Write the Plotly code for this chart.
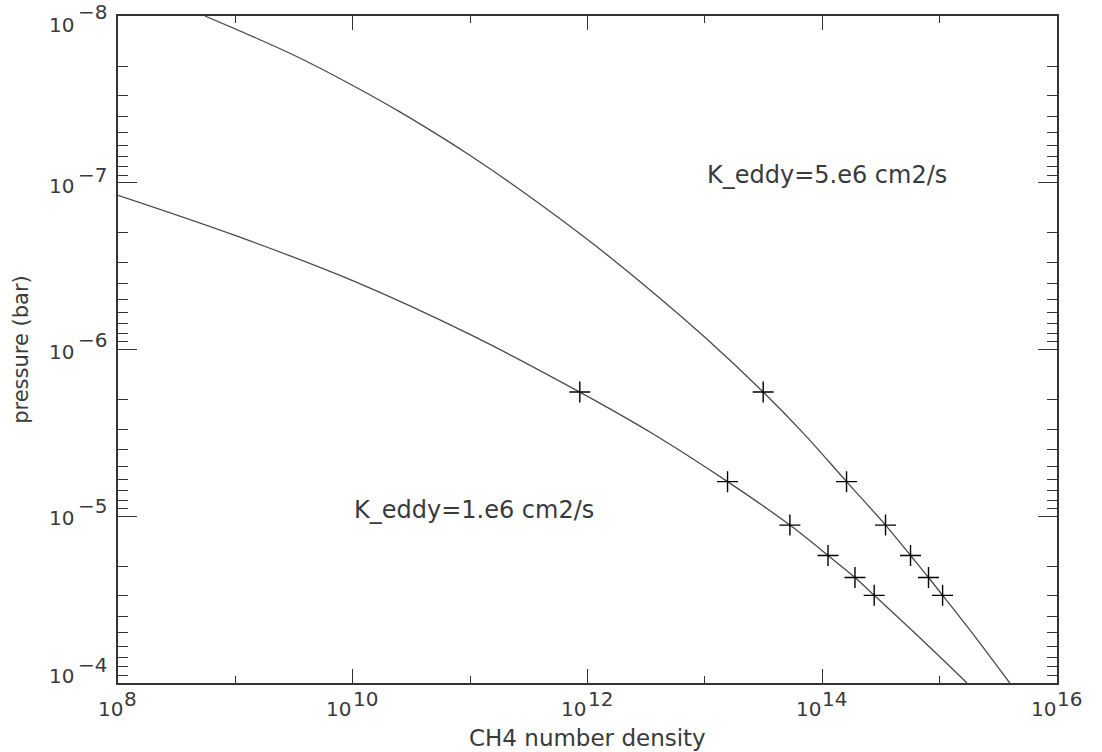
import plotly.graph_objects as go

# ---- data ----
# K_eddy = 1.e6 cm2/s curve
dens_k1 = [1e8, 9.93e8, 9.86e9, 9.95e10, 8.6e11, 3.63e12, 1.56e13, 5.3e13,
           1.12e14, 1.90e14, 2.77e14, 6.78e14, 1.71e15]
pres_k1 = [1.19e-7, 2.07e-7, 3.85e-7, 8.11e-7, 1.8e-6, 3.21e-6, 6.2e-6, 1.13e-5,
           1.72e-5, 2.33e-5, 2.98e-5, 5.36e-5, 1.0e-4]
# K_eddy = 5.e6 cm2/s curve
dens_k5 = [5.5e8, 3.16e9, 1.0e10, 2.52e10, 1.0e11, 3.16e11, 1.0e12, 3.16e12,
           1.0e13, 3.14e13, 7.08e13, 1.61e14, 3.46e14, 5.65e14, 8.04e14,
           1.06e15, 2.0e15, 3.96e15]
pres_k5 = [1.0e-8, 1.72e-8, 2.61e-8, 3.76e-8, 6.86e-8, 1.20e-7, 2.19e-7, 4.20e-7,
           8.45e-7, 1.8e-6, 3.24e-6, 6.2e-6, 1.13e-5, 1.72e-5, 2.33e-5,
           2.98e-5, 5.27e-5, 1.0e-4]
# "+" markers (same pressure levels on both curves)
marker_pres = [1.8e-6, 6.2e-6, 1.13e-5, 1.72e-5, 2.33e-5, 2.98e-5]
marker_dens_k1 = [8.6e11, 1.56e13, 5.3e13, 1.12e14, 1.90e14, 2.77e14]
marker_dens_k5 = [3.14e13, 1.61e14, 3.46e14, 5.65e14, 8.04e14, 1.06e15]

label_k1 = "K_eddy=1.e6 cm2/s"
label_k5 = "K_eddy=5.e6 cm2/s"
x_title = "CH4 number density"
y_title = "pressure (bar)"

x_tick_exps = [8, 10, 12, 14, 16]
y_tick_exps = [-8, -7, -6, -5, -4]

FONT = "DejaVu Sans"
TXT = "#3a3a3a"
LINE = "#4a4a4a"
AX = "#333333"
TICK_FS = 20

# vertical offsets (px) of the "10" and of the exponent for each y label (IDL style)
y_base_shift = [-8.5, -2.8, -2.5, -1.5, 7.2]
y_exp_shift = [4.0, 8.2, 9.3, 10.5, 17.7]

fig = go.Figure()
for d, p in [(dens_k1, pres_k1), (dens_k5, pres_k5)]:
    fig.add_trace(go.Scatter(x=d, y=p, mode="lines",
                             line=dict(color=LINE, width=1.3, shape="spline", smoothing=1.0),
                             showlegend=False, hoverinfo="skip"))
for d in [marker_dens_k1, marker_dens_k5]:
    fig.add_trace(go.Scatter(x=d, y=marker_pres, mode="markers",
                             marker=dict(symbol="cross-thin", size=15,
                                         line=dict(color="black", width=1.4)),
                             showlegend=False))

x_minor = [10.0 ** e for e in range(9, 16, 2)]
y_minor = [m * 10.0 ** e for e in range(-8, -4) for m in range(2, 10)]

fig.update_xaxes(type="log", range=[8, 16], automargin=False, showticklabels=False,
                 tickmode="array", tickvals=[10.0 ** e for e in x_tick_exps],
                 ticks="inside", ticklen=14, tickwidth=1.2, tickcolor=AX,
                 showline=True, linecolor=AX, linewidth=1.5, mirror="ticks",
                 showgrid=False, zeroline=False,
                 minor=dict(tickmode="array", tickvals=x_minor, ticks="inside", ticklen=7,
                            tickwidth=1.2, tickcolor=AX, showgrid=False))
fig.update_yaxes(type="log", range=[-4, -8], automargin=False, showticklabels=False,
                 tickmode="array", tickvals=[10.0 ** e for e in y_tick_exps],
                 ticks="inside", ticklen=19, tickwidth=1.2, tickcolor=AX,
                 showline=True, linecolor=AX, linewidth=1.5, mirror="ticks",
                 showgrid=False, zeroline=False,
                 minor=dict(tickmode="array", tickvals=y_minor, ticks="inside", ticklen=10,
                            tickwidth=1.2, tickcolor=AX, showgrid=False))

tfont = dict(family=FONT, size=TICK_FS, color=TXT)
BASE_W = 1.272 * TICK_FS  # width of "10"


def exp_text(e):
    return str(e).replace("-", "\u2212")


def exp_width(e):
    w = 0.0
    for ch in str(e):
        w += 0.838 * TICK_FS if ch == "-" else 0.636 * TICK_FS
    return w


# x tick labels: "10" + raised exponent, centred on the tick
for e in x_tick_exps:
    total = BASE_W + exp_width(e)
    fig.add_annotation(x=e, y=0, xref="x", yref="paper", text="10", showarrow=False,
                       xanchor="left", yanchor="middle", xshift=-total / 2 - 2, yshift=-26.3,
                       font=tfont, borderpad=0)
    fig.add_annotation(x=e, y=0, xref="x", yref="paper", text=exp_text(e), showarrow=False,
                       xanchor="left", yanchor="middle", xshift=-total / 2 + BASE_W - 1,
                       yshift=-16.3, font=tfont, borderpad=0)

# y tick labels
for e, bs, es in zip(y_tick_exps, y_base_shift, y_exp_shift):
    fig.add_annotation(x=0, y=e, xref="paper", yref="y", text="10", showarrow=False,
                       xanchor="right", yanchor="middle", xshift=-43, yshift=bs,
                       font=tfont, borderpad=0)
    fig.add_annotation(x=0, y=e, xref="paper", yref="y", text=exp_text(e), showarrow=False,
                       xanchor="left", yanchor="middle", xshift=-41, yshift=es,
                       font=tfont, borderpad=0)

fig.add_annotation(x=13.0, y=-7.045, xref="x", yref="y", text=label_k5, showarrow=False,
                   xanchor="left", yanchor="middle", font=dict(family=FONT, size=24, color=TXT))
fig.add_annotation(x=9.99, y=-5.036, xref="x", yref="y", text=label_k1, showarrow=False,
                   xanchor="left", yanchor="middle", font=dict(family=FONT, size=24, color=TXT))
fig.add_annotation(x=0.5, y=0, xref="paper", yref="paper", text=x_title, showarrow=False,
                   xanchor="center", yanchor="middle", yshift=-55,
                   font=dict(family=FONT, size=23, color=TXT), borderpad=0)
fig.add_annotation(x=-0.104, y=0.5, xref="paper", yref="paper", text=y_title, showarrow=False,
                   textangle=-90, xanchor="center", yanchor="middle",
                   font=dict(family=FONT, size=21, color=TXT))

fig.update_layout(width=1102, height=752, plot_bgcolor="white", paper_bgcolor="white",
                  margin=dict(l=118, r=45, t=16, b=69))

fig.write_html("out.html", config={"displayModeBar": False},
               post_script="document.body.style.margin='0';document.body.style.overflow='hidden';")
